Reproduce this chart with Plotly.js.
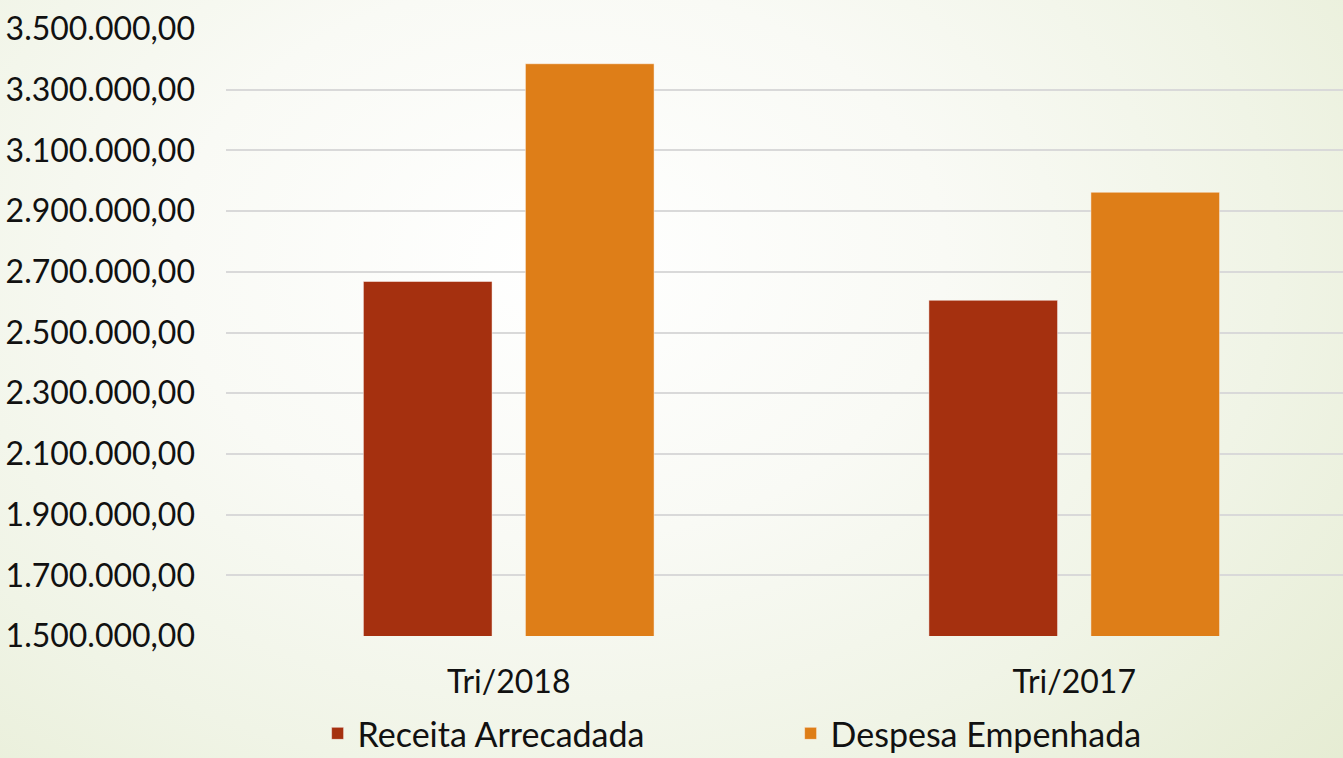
<!DOCTYPE html>
<html>
<head>
<meta charset="utf-8">
<script src="https://cdn.plot.ly/plotly-3.0.1.min.js"></script>
<style>
  html, body { margin: 0; padding: 0; }
  body {
    width: 1343px; height: 758px; overflow: hidden;
    background: radial-gradient(ellipse 1100px 800px at 560px 260px, #ffffff 0%, #f9faf5 35%, #f0f4e6 65%, #e4ebd0 100%);
  }
  #chart { width: 1343px; height: 758px; }
</style>
</head>
<body>
<div id="chart"></div>
<script>
const categories = ["Tri/2018", "Tri/2017"];
const receitaArrecadada = [2668000, 2606000];
const despesaEmpenhada = [3385500, 2962000];
const seriesNames = ["Receita Arrecadada", "Despesa Empenhada"];
const tickValues = [1500000, 1700000, 1900000, 2100000, 2300000, 2500000, 2700000, 2900000, 3100000, 3300000, 3500000];
const tickLabels = ["1.500.000,00", "1.700.000,00", "1.900.000,00", "2.100.000,00", "2.300.000,00", "2.500.000,00", "2.700.000,00", "2.900.000,00", "3.100.000,00", "3.300.000,00", "3.500.000,00"];

const FONT = "Lato, 'Liberation Sans', Arial, sans-serif";

const data = [
  {
    type: "bar", name: seriesNames[0], x: categories, y: receitaArrecadada,
    marker: { color: "#A5300F", line: { color: "rgba(255,255,255,0.45)", width: 1 } },
    hoverinfo: "none"
  },
  {
    type: "bar", name: seriesNames[1], x: categories, y: despesaEmpenhada,
    marker: { color: "#DE7E18", line: { color: "rgba(255,255,255,0.45)", width: 1 } },
    hoverinfo: "none"
  }
];

const layout = {
  width: 1343, height: 758,
  paper_bgcolor: "rgba(0,0,0,0)",
  plot_bgcolor: "rgba(0,0,0,0)",
  margin: { l: 226, r: 0, t: 28.5, b: 121.5, pad: 0, autoexpand: false },
  barmode: "group",
  bargap: 0.427,
  bargroupgap: 0.206,
  font: { family: FONT, size: 32, color: "#111111" },
  xaxis: {
    type: "category",
    range: [-0.5, 1.4753],
    showgrid: false, zeroline: false, showline: false,
    ticks: "", ticklabelstandoff: 24,
    tickfont: { family: FONT, size: 32, color: "#111111" },
    fixedrange: true
  },
  yaxis: {
    range: [1500000, 3500000],
    tickmode: "array", tickvals: tickValues, ticktext: tickLabels,
    showgrid: true, gridcolor: "#D9D9D9", gridwidth: 2,
    zeroline: false, showline: false,
    ticks: "", ticklabelstandoff: 30,
    tickfont: { family: FONT, size: 32, color: "#111111" },
    fixedrange: true
  },
  showlegend: true,
  legend: {
    orientation: "h",
    x: 0.082, xanchor: "left",
    yref: "container",
    y: 0.032, yanchor: "middle",
    entrywidth: 428, entrywidthmode: "pixels",
    font: { family: FONT, size: 34, color: "#111111" },
    bgcolor: "rgba(0,0,0,0)",
    traceorder: "normal"
  }
};

Plotly.newPlot("chart", data, layout, { staticPlot: true, displayModeBar: false });
</script>
</body>
</html>
